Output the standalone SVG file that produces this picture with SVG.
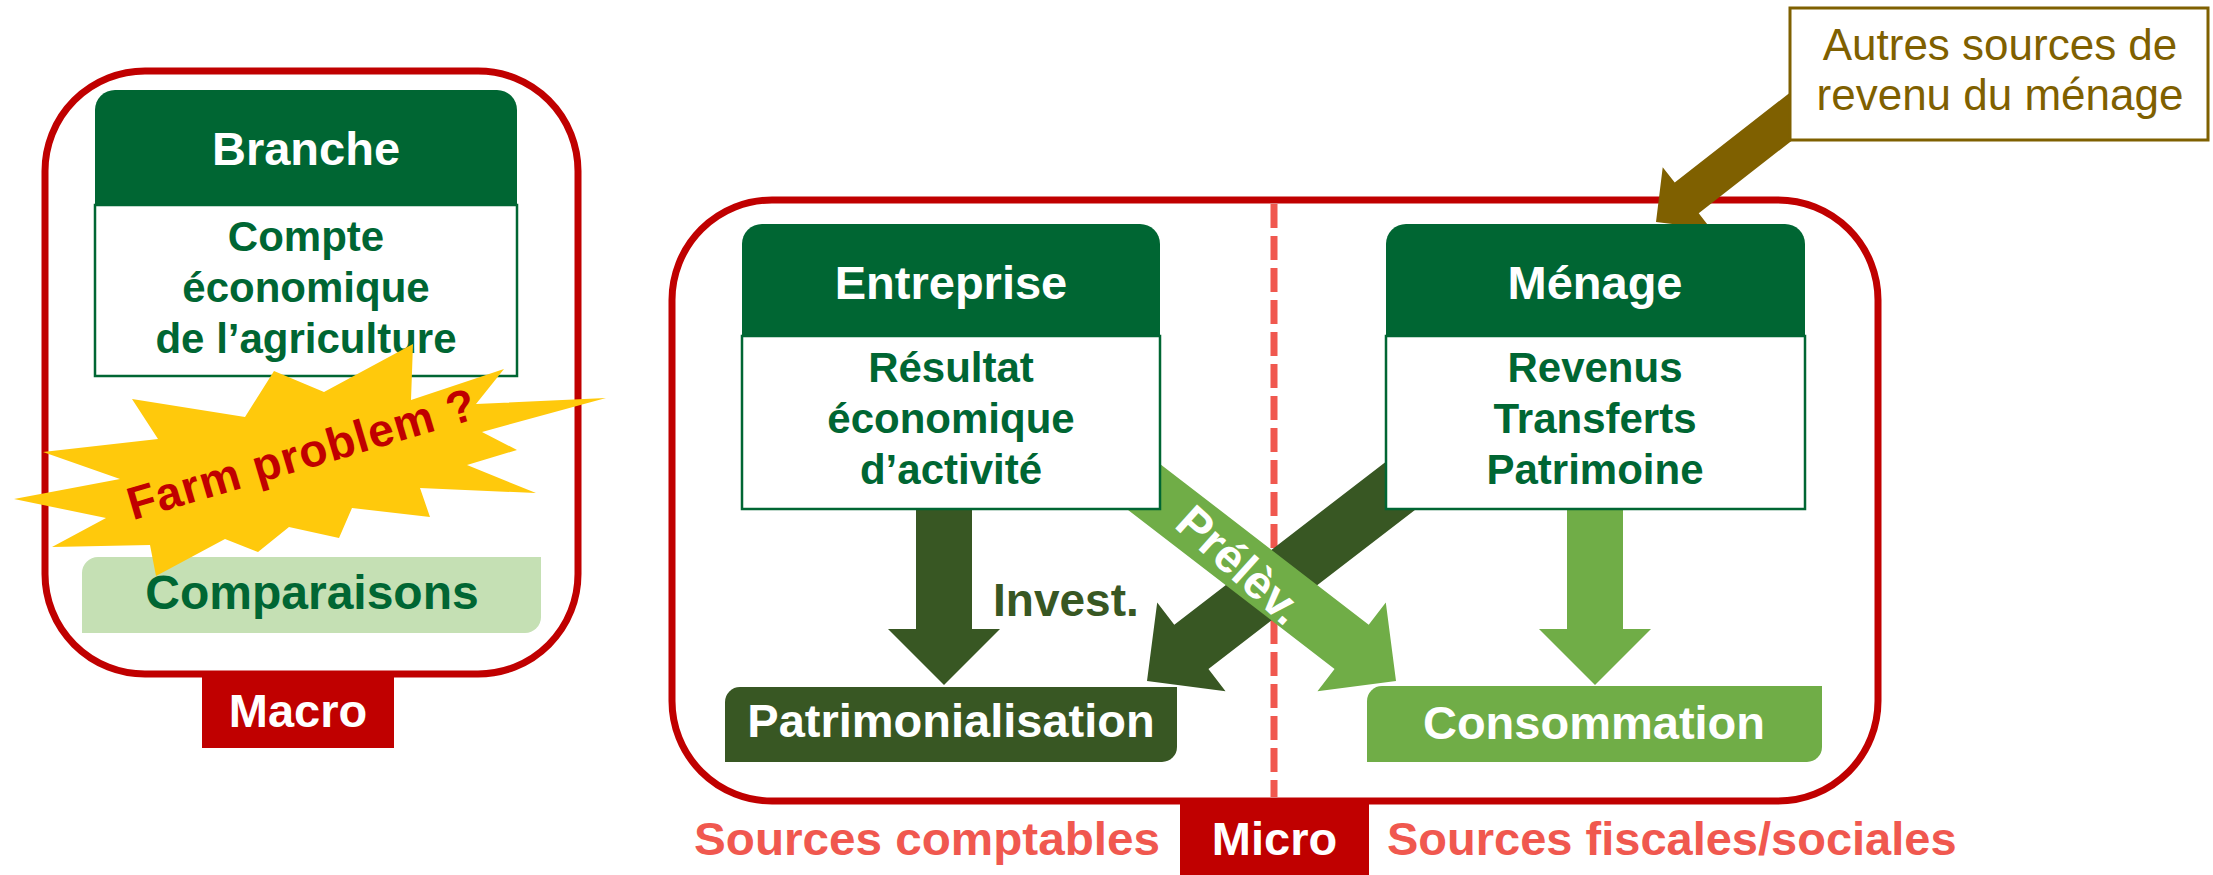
<svg xmlns="http://www.w3.org/2000/svg" width="2213" height="875" viewBox="0 0 2213 875">
<style>
text{font-family:"Liberation Sans",Arial,sans-serif;font-weight:bold}
.frame{fill:none;stroke:#C00000;stroke-width:7}
.hdr{fill:#006633}
.body{fill:#FFFFFF;stroke:#006633;stroke-width:2.5}
.ht{fill:#FFFFFF;font-size:47px;text-anchor:middle}
.bt{fill:#006633;font-size:42px;text-anchor:middle}
.lbl{fill:#C00000}
.lt{fill:#FFFFFF;font-size:47px;text-anchor:middle}
.src{fill:#F0584F;font-size:47px}
.dark{fill:#385723}
.light{fill:#70AD47}
.brown{fill:#7F6000}
</style>
<defs>
<path id="bigArrow" d="M0,0 L-56,-56 L-56,-28 L-360,-28 L-360,28 L-56,28 L-56,56 Z"/>
</defs>

<g id="macro-frame">
<rect class="frame" x="45" y="71" width="533" height="603" rx="100"/>
</g>

<g id="node-branche">
<path class="hdr" d="M95,205 V110 A20,20 0 0 1 115,90 H497 A20,20 0 0 1 517,110 V205 Z"/>
<rect class="body" x="95" y="205" width="422" height="171"/>
<text class="ht" x="306" y="165">Branche</text>
<text class="bt" x="306" y="251">Compte</text>
<text class="bt" x="306" y="302">économique</text>
<text class="bt" x="306" y="353">de l’agriculture</text>
</g>

<g id="node-comparaisons">
<path fill="#C5E0B4" d="M82,573 A16,16 0 0 1 98,557 H541 V617 A16,16 0 0 1 525,633 H82 Z"/>
<text x="312" y="609" fill="#006633" font-size="48" text-anchor="middle">Comparaisons</text>
</g>

<g id="farm-problem">
<polygon fill="#FFC90C" points="606,398 482,432 517,450 467,465 536,493 420,488 430,517 352,508 339,538 289,527 258,552 225,539 156,576 150,545 52,547 106,518 14,499 120,479 43,452 158,439 132,399 245,417 274,371 324,392 413,344 411,400 504,369 476,404"/>
<text transform="translate(306,469) rotate(-16.5)" fill="#C00000" font-size="46" letter-spacing="1" text-anchor="middle">Farm problem ?</text>
</g>

<g id="label-macro">
<rect class="lbl" x="202" y="677" width="192" height="71"/>
<text class="lt" x="298" y="727">Macro</text>
</g>

<g id="micro-frame">
<rect class="frame" x="672" y="200" width="1206" height="601" rx="100"/>
<line x1="1274" y1="204" x2="1274" y2="797" stroke="#F0584F" stroke-width="7" stroke-dasharray="24 8"/>
</g>

<g id="connectors">
<polygon class="dark" points="916,505 972,505 972,629 1000,629 944,685 888,629 916,629"/>
<polygon class="light" points="1567,505 1623,505 1623,629 1651,629 1595,685 1539,629 1567,629"/>
<use href="#bigArrow" class="dark" transform="translate(1147,681) rotate(142.4)"/>
<use href="#bigArrow" class="light" transform="translate(1396,681) rotate(37.6)"/>
<text transform="translate(1229,577) rotate(42)" fill="#FFFFFF" font-size="47" text-anchor="middle">Prélèv.</text>
<text x="993" y="616" fill="#385723" font-size="46">Invest.</text>
<path class="brown" transform="translate(1656,222) rotate(142)" d="M0,0 L-39,-39 L-39,-19.5 L-200,-19.5 L-200,19.5 L-39,19.5 L-39,39 Z"/>
</g>

<g id="node-entreprise">
<path class="hdr" d="M742,336 V244 A20,20 0 0 1 762,224 H1140 A20,20 0 0 1 1160,244 V336 Z"/>
<rect class="body" x="742" y="336" width="418" height="173"/>
<text class="ht" x="951" y="299">Entreprise</text>
<text class="bt" x="951" y="382">Résultat</text>
<text class="bt" x="951" y="433">économique</text>
<text class="bt" x="951" y="484">d’activité</text>
</g>

<g id="node-menage">
<path class="hdr" d="M1386,336 V244 A20,20 0 0 1 1406,224 H1785 A20,20 0 0 1 1805,244 V336 Z"/>
<rect class="body" x="1386" y="336" width="419" height="173"/>
<text class="ht" x="1595" y="299">Ménage</text>
<text class="bt" x="1595" y="382">Revenus</text>
<text class="bt" x="1595" y="433">Transferts</text>
<text class="bt" x="1595" y="484">Patrimoine</text>
</g>

<g id="node-patrimonialisation">
<path class="dark" d="M725,702 A15,15 0 0 1 740,687 H1177 V747 A15,15 0 0 1 1162,762 H725 Z"/>
<text class="lt" x="951" y="737">Patrimonialisation</text>
</g>

<g id="node-consommation">
<path class="light" d="M1367,701 A15,15 0 0 1 1382,686 H1822 V747 A15,15 0 0 1 1807,762 H1367 Z"/>
<text class="lt" x="1594" y="739">Consommation</text>
</g>

<g id="node-autres">
<rect x="1790" y="8" width="418" height="132" fill="#FFFFFF" stroke="#7F6000" stroke-width="3"/>
<text x="2000" y="60" fill="#7F6000" font-size="44" text-anchor="middle" style="font-weight:normal">Autres sources de</text>
<text x="2000" y="110" fill="#7F6000" font-size="44" text-anchor="middle" style="font-weight:normal">revenu du ménage</text>
</g>

<g id="label-micro">
<rect class="lbl" x="1180" y="804" width="189" height="71"/>
<text class="lt" x="1274.5" y="855">Micro</text>
<text class="src" x="1160" y="855" text-anchor="end" textLength="466" lengthAdjust="spacingAndGlyphs">Sources comptables</text>
<text class="src" x="1387" y="855">Sources fiscales/sociales</text>
</g>
</svg>
